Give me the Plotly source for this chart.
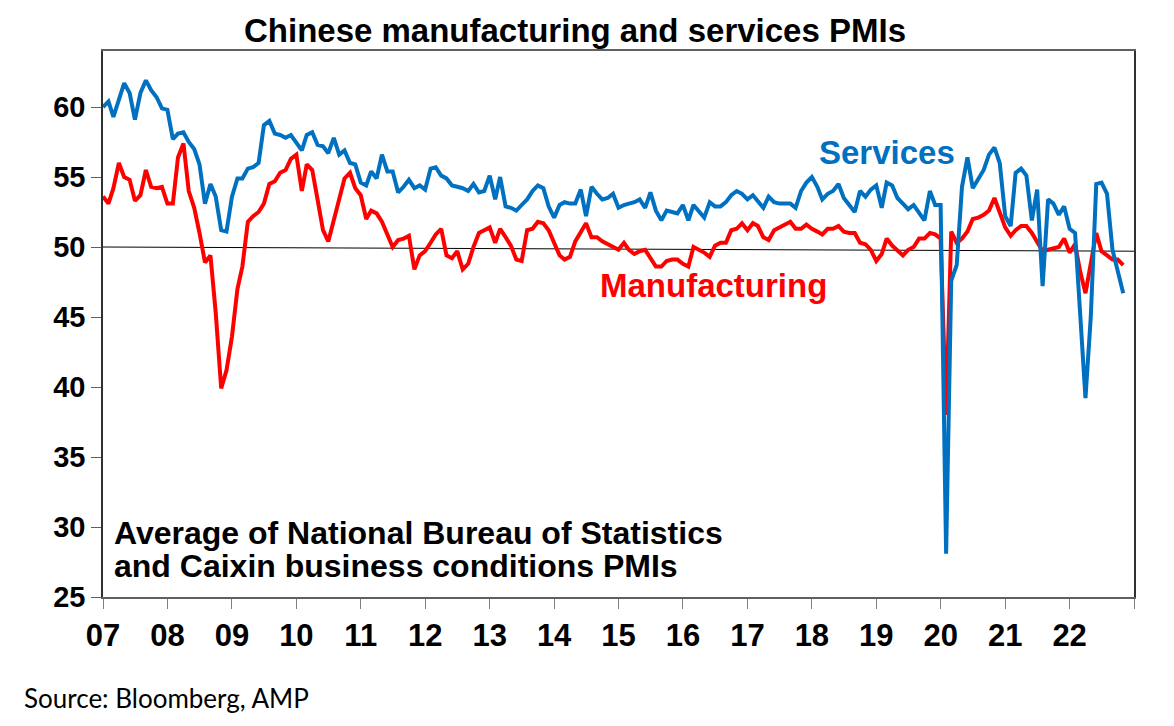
import pandas as pd
import plotly.graph_objects as go

# ---- data (monthly, Jan 2007 - Nov 2022) ----
start_month = "2007-01-01"

services = [
    60.0, 60.4, 59.3, 60.5, 61.7, 61.0, 59.1, 61.0, 61.9, 61.2, 60.7, 59.9,  # 2007
    59.8, 57.7, 58.1, 58.2, 57.5, 57.0, 55.9, 53.1, 54.5, 53.6, 51.2, 51.1,  # 2008
    53.6, 54.9, 54.9, 55.6, 55.7, 56.0, 58.7, 59.0, 58.1, 58.0, 57.8, 58.0,  # 2009
    57.5, 56.9, 58.0, 58.2, 57.3, 57.2, 56.7, 57.8, 56.6, 56.9, 56.0, 55.9,  # 2010
    54.6, 54.4, 55.4, 54.9, 56.6, 55.4, 55.4, 53.9, 54.3, 54.8, 54.2, 54.4,  # 2011
    54.1, 55.6, 55.7, 55.1, 54.9, 54.4, 54.3, 54.2, 54.0, 54.5, 53.9, 54.0,  # 2012
    55.1, 53.4, 55.0, 52.9, 52.8, 52.6, 53.0, 53.4, 54.0, 54.4, 54.2, 52.9,  # 2013
    52.1, 53.0, 53.2, 53.1, 53.1, 54.1, 52.2, 54.3, 53.8, 53.4, 53.5, 53.8,  # 2014
    52.8, 53.0, 53.1, 53.2, 53.4, 52.8, 53.9, 52.6, 51.9, 52.6, 52.5, 52.4,  # 2015
    53.0, 51.9, 53.0, 52.5, 52.1, 53.2, 52.9, 52.9, 53.2, 53.7, 54.0, 53.8,  # 2016
    53.4, 53.7, 53.3, 52.8, 53.6, 53.2, 53.1, 53.1, 53.1, 52.8, 54.0, 54.6,  # 2017
    55.0, 54.3, 53.4, 53.8, 54.0, 54.5, 53.5, 53.0, 52.5, 54.0, 53.6, 54.1,  # 2018
    54.4, 52.8, 54.6, 54.4, 53.5, 53.1, 52.7, 53.0, 52.4, 51.9, 54.0, 53.0,  # 2019
    53.0, 28.1, 47.6, 48.7, 54.3, 56.4, 54.2, 54.8, 55.5, 56.6, 57.1, 56.0,  # 2020
    52.2, 51.5, 55.3, 55.6, 55.1, 51.9, 54.1, 47.2, 53.4, 53.1, 52.3, 52.9,  # 2021
    51.3, 51.0, 45.5, 39.2, 45.0, 54.5, 54.6, 53.8, 49.8, 48.4, 46.7,        # 2022
]

manufacturing = [
    53.6, 53.1, 54.2, 56.0, 55.0, 54.8, 53.3, 53.7, 55.5, 54.3, 54.2, 54.3,  # 2007
    53.1, 53.1, 56.4, 57.4, 54.0, 52.8, 51.0, 48.9, 49.4, 45.3, 39.9, 41.2,  # 2008
    43.6, 47.0, 48.6, 51.8, 52.2, 52.5, 53.1, 54.5, 54.7, 55.3, 55.5, 56.3,  # 2009
    56.6, 54.0, 55.9, 55.5, 53.4, 51.2, 50.4, 51.9, 53.5, 54.9, 55.3, 54.2,  # 2010
    53.7, 52.0, 52.6, 52.4, 51.8, 50.9, 50.0, 50.5, 50.6, 50.8, 48.4, 49.4,  # 2011
    49.7, 50.3, 50.9, 51.3, 49.4, 49.2, 49.7, 48.4, 48.8, 50.0, 51.0, 51.2,  # 2012
    51.4, 50.3, 51.3, 50.7, 50.1, 49.1, 49.0, 51.2, 51.3, 51.8, 51.7, 51.2,  # 2013
    50.3, 49.4, 49.1, 49.3, 50.4, 51.0, 51.7, 50.7, 50.7, 50.4, 50.2, 50.0,  # 2014
    49.8, 50.3, 49.8, 49.5, 49.7, 49.8, 49.2, 48.6, 48.6, 49.0, 49.1, 49.1,  # 2015
    48.8, 48.6, 50.0, 49.8, 49.6, 49.3, 50.1, 50.3, 50.3, 51.2, 51.3, 51.7,  # 2016
    51.2, 51.7, 51.5, 50.7, 50.5, 51.2, 51.4, 51.6, 51.8, 51.3, 51.3, 51.6,  # 2017
    51.3, 51.1, 50.9, 51.3, 51.3, 51.5, 51.1, 51.0, 51.0, 50.3, 50.2, 49.8,  # 2018
    49.0, 49.5, 50.6, 50.1, 49.8, 49.4, 49.8, 50.0, 50.6, 50.6, 51.0, 50.9,  # 2019
    50.6, 38.0, 51.1, 50.3, 50.6, 51.1, 52.0, 52.1, 52.3, 52.6, 53.5, 52.4,  # 2020
    51.4, 50.8, 51.2, 51.5, 51.5, 51.0, 50.3, 49.7, 49.8, 49.9, 50.0, 50.6,  # 2021
    49.6, 50.2, 48.3, 46.7, 48.8, 51.0, 49.7, 49.4, 49.1, 49.1, 48.7,        # 2022
]

# thin reference line near 50 (drawn slightly tilted in the original)
ref_dates = ["2007-01-01", "2023-01-01"]
ref_values = [50.0, 49.7]

tick_years = list(range(2007, 2024))
tick_labels = ["07", "08", "09", "10", "11", "12", "13", "14", "15", "16",
               "17", "18", "19", "20", "21", "22", ""]

y_ticks = [25, 30, 35, 40, 45, 50, 55, 60]

title_text = "Chinese manufacturing and services PMIs"
note_lines = ["Average of National Bureau of Statistics",
              "and Caixin business conditions PMIs"]
source_text = "Source: Bloomberg, AMP"

# ---- figure ----
dates = pd.date_range(start_month, periods=len(services), freq="MS")
tick_vals = [f"{y}-01-01" for y in tick_years]

BLUE = "#0070C0"
RED = "#FF0000"
FONT = "Liberation Sans"

# page has an 8px body margin; plot area wanted at x 103..1134, y 51..597 on the page
FIG_W, FIG_H = 1174, 726
OFF = 8
PL, PR, PT, PB = 103, 1134, 51, 597
PLOT_H = PB - PT


def py(page_y):
    """page pixel y -> paper y"""
    return (PB - page_y) / PLOT_H


def px(page_x):
    return (page_x - PL) / (PR - PL)


fig = go.Figure()
fig.add_trace(go.Scatter(x=ref_dates, y=ref_values, mode="lines",
                         line=dict(color="black", width=1), hoverinfo="skip"))
fig.add_trace(go.Scatter(x=dates, y=manufacturing, mode="lines", name="Manufacturing",
                         line=dict(color=RED, width=4)))
fig.add_trace(go.Scatter(x=dates, y=services, mode="lines", name="Services",
                         line=dict(color=BLUE, width=4)))

fig.update_layout(
    width=FIG_W, height=FIG_H,
    margin=dict(l=PL - OFF, r=FIG_W + OFF - PR, t=PT - OFF, b=FIG_H + OFF - PB),
    paper_bgcolor="white", plot_bgcolor="white",
    showlegend=False,
    font=dict(family=FONT, color="black"),
    title=dict(text="<b>" + title_text + "</b>", x=px(575), xref="paper", xanchor="center",
               y=1 - (30 - OFF) / FIG_H, yref="container", yanchor="middle",
               font=dict(family=FONT, size=33, color="black")),
)

fig.update_xaxes(
    type="date", range=["2007-01-01", "2023-01-01"],
    tickmode="array", tickvals=tick_vals, ticktext=tick_labels,
    ticks="outside", ticklen=10, tickwidth=1, tickcolor="#808080",
    showline=True, linecolor="#606060", linewidth=1.5, mirror=True,
    showgrid=False, zeroline=False,
    tickfont=dict(family=FONT, size=31, color="black", weight="bold"),
    ticklabelstandoff=0,
)
fig.update_yaxes(
    range=[25, 64], tickmode="array", tickvals=y_ticks,
    ticks="outside", ticklen=10, tickwidth=1, tickcolor="#606060",
    showline=True, linecolor="#303030", linewidth=1.5, mirror=True,
    showgrid=False, zeroline=False,
    tickfont=dict(family=FONT, size=29, color="black", weight="bold"),
    ticklabelstandoff=0,
)

fig.add_annotation(text="<b>Services</b>", x=px(887), y=py(152), xref="paper", yref="paper",
                   xanchor="center", yanchor="middle", showarrow=False,
                   font=dict(family=FONT, size=33, color=BLUE))
fig.add_annotation(text="<b>Manufacturing</b>", x=px(713), y=py(285), xref="paper", yref="paper",
                   xanchor="center", yanchor="middle", showarrow=False,
                   font=dict(family=FONT, size=33, color=RED))
for line_text, line_y in zip(note_lines, [533, 566]):
    fig.add_annotation(text="<b>" + line_text + "</b>", x=px(112), y=py(line_y),
                       xref="paper", yref="paper", xanchor="left", yanchor="middle",
                       showarrow=False, font=dict(family=FONT, size=32, color="black"))
fig.add_annotation(text=source_text, x=px(22), y=py(698), xref="paper", yref="paper",
                   xanchor="left", yanchor="middle", showarrow=False,
                   font=dict(family="Lato", size=26, color="black"))

fig.write_html("out.html")
